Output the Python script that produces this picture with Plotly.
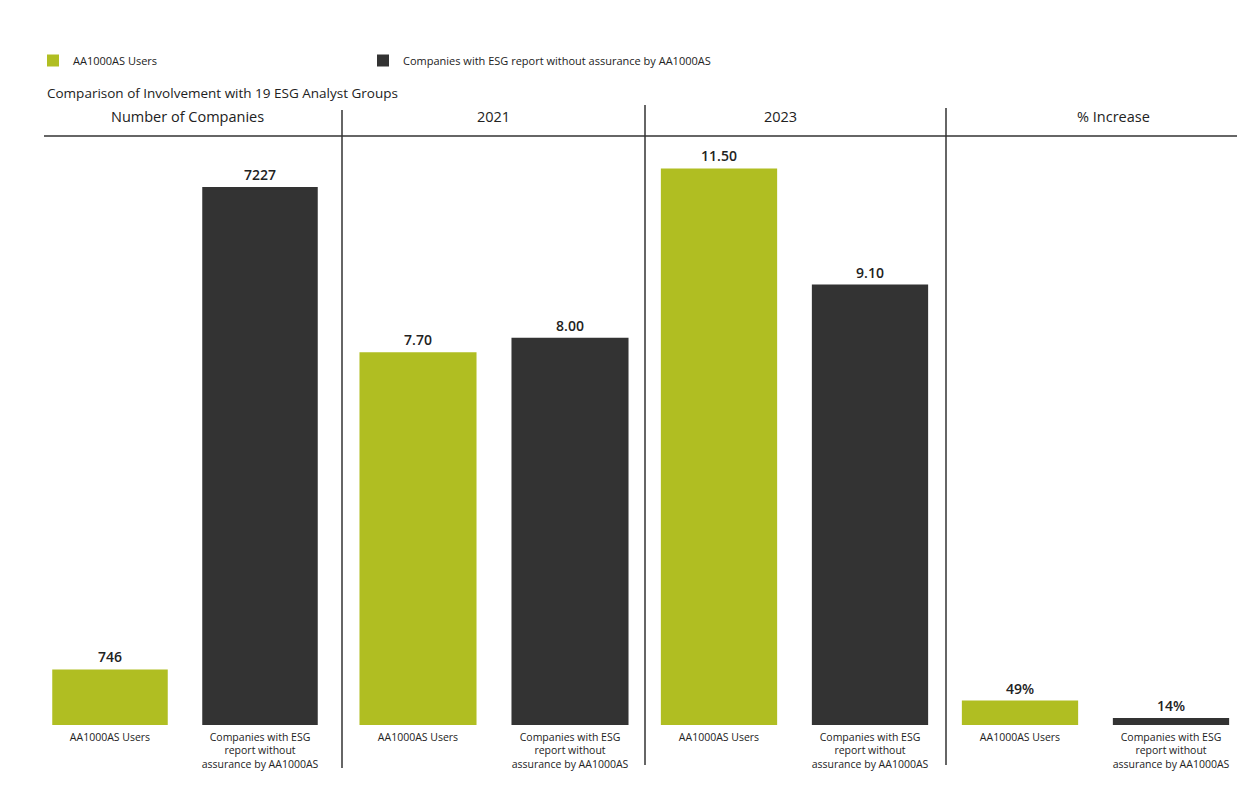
import plotly.graph_objects as go

# data
categories = ["AA1000AS Users", "Companies with ESG<br>report without<br>assurance by AA1000AS"]
panel_titles = ["Number of Companies", "2021", "2023", "% Increase"]
num_companies = [746, 7227]
involvement_2021 = [7.70, 8.00]
involvement_2023 = [11.50, 9.10]
pct_increase = [49, 14]
series_names = ["AA1000AS Users", "Companies with ESG report without assurance by AA1000AS"]

GREEN = "#b0be22"
DARK = "#333333"
INK = "#222222"
W, H = 1252, 798
OFF = 8  # page body margin
FONT = "Open Sans"

def px_x(v):
    return (v - OFF) / W

def px_y(v):
    return 1 - (v - OFF) / H

panels = [
    (num_companies, "%{y}", [0, 7912]),
    (involvement_2021, "%{y:.2f}", [0, 12.17]),
    (involvement_2023, "%{y:.2f}", [0, 12.17]),
    (pct_increase, "%{y}%", [0, 1180]),
]
x_spans = [(35, 335), (342, 646), (643.5, 945.5), (944.5, 1246.5)]
title_x = [187, 493, 780, 1113]

fig = go.Figure()
for i, (vals, tmpl, rng) in enumerate(panels):
    n = "" if i == 0 else str(i + 1)
    for j in range(2):
        fig.add_trace(go.Bar(
            x=[categories[j]], y=[vals[j]],
            name=series_names[j], showlegend=(i == 0),
            legend="legend" if j == 0 else "legend2",
            marker=dict(color=[GREEN, DARK][j], line=dict(width=0)),
            width=0.77,
            texttemplate=tmpl, textposition="outside", cliponaxis=False,
            textfont=dict(size=14, color=INK, family=FONT, weight=600),
            xaxis="x" + n, yaxis="y" + n,
        ))
    x0, x1 = x_spans[i]
    fig.layout["xaxis" + n] = dict(
        domain=[px_x(x0), px_x(x1)], anchor="y" + n,
        categoryorder="array", categoryarray=categories,
        showgrid=False, zeroline=False, showline=False, ticks="",
        ticklabelstandoff=4,
        tickfont=dict(size=10.5, color=INK, family=FONT),
        automargin=False, fixedrange=True,
    )
    fig.layout["yaxis" + n] = dict(
        domain=[px_y(725), px_y(136)], anchor="x" + n, range=rng,
        visible=False, automargin=False, fixedrange=True,
    )
    fig.add_annotation(
        x=px_x(title_x[i]), y=px_y(117), xref="paper", yref="paper",
        xanchor="center", yanchor="middle",
        text=panel_titles[i], showarrow=False,
        font=dict(size=14.5, color=INK, family=FONT),
    )

fig.add_annotation(
    x=px_x(45), y=px_y(93), xref="paper", yref="paper",
    xanchor="left", yanchor="middle",
    text="Comparison of Involvement with 19 ESG Analyst Groups", showarrow=False,
    font=dict(size=13.5, color=INK, family=FONT),
)

# header rule and panel separators
fig.add_shape(type="line", xref="paper", yref="paper",
              x0=px_x(44), x1=px_x(1237), y0=px_y(136), y1=px_y(136),
              line=dict(color=DARK, width=1.5))
for xs, ytop, ybot in [(342, 110, 768), (645, 105, 765), (946, 108, 765)]:
    fig.add_shape(type="line", xref="paper", yref="paper",
                  x0=px_x(xs), x1=px_x(xs), y0=px_y(ytop), y1=px_y(ybot),
                  line=dict(color=DARK, width=1.5))

legend_style = dict(
    orientation="h", xanchor="left", yanchor="top",
    font=dict(size=11, color=INK, family=FONT),
    bgcolor="rgba(0,0,0,0)",
)

fig.update_layout(
    width=W, height=H,
    margin=dict(l=0, r=0, t=0, b=0),
    paper_bgcolor="white", plot_bgcolor="white",
    barmode="group",
    font=dict(family=FONT, color=INK),
    legend=dict(x=px_x(33), y=px_y(46), **legend_style),
    legend2=dict(x=px_x(363), y=px_y(46), **legend_style),
)

fig.write_html("out.html")
